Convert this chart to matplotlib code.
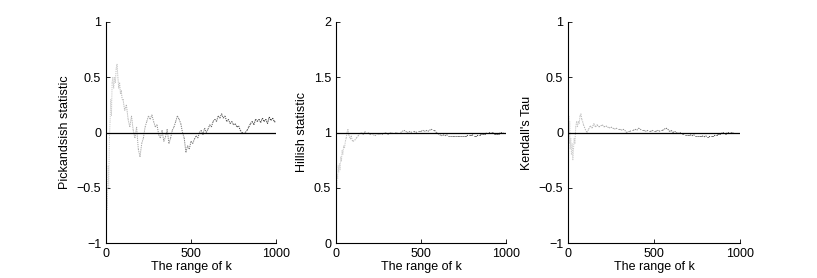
import numpy as np
import matplotlib
matplotlib.use('Agg')
import matplotlib.pyplot as plt
from matplotlib.collections import LineCollection

plt.rcParams['font.family'] = ['Liberation Sans', 'DejaVu Sans']
plt.rcParams['font.size'] = 8.5

# sample positions of k
k_vals = [1, 3, 5, 8, 10, 13, 16, 20, 24, 28, 32, 36, 40, 45, 50, 55, 60, 65, 70, 75,
          80, 85, 90, 95, 100] + list(range(110, 1001, 10))

pickands = [-0.95, -0.8, -0.5, -0.7, -0.45, -0.3, -0.5, -0.05, 0.1, 0.3, 0.15, 0.45, 0.5,
            0.4, 0.5, 0.45, 0.58, 0.62, 0.5, 0.4, 0.45, 0.35, 0.38, 0.3, 0.3,
            0.2, 0.25, 0.12, 0.05, 0.15, 0.02, -0.05, 0.05, -0.15, -0.22,
            -0.1, -0.05, 0.05, 0.1, 0.15, 0.12, 0.16, 0.1, 0.05, 0.07,
            -0.02, -0.05, 0.02, -0.08, -0.04, 0.03, -0.1, -0.05, 0.02, 0.05,
            0.1, 0.15, 0.12, 0.08, 0.0, -0.05, -0.18, -0.12, -0.15, -0.08,
            -0.1, -0.06, -0.03, -0.05, 0.0, 0.02, -0.02, 0.04, 0.0, 0.03,
            0.07, 0.05, 0.1, 0.12, 0.1, 0.15, 0.13, 0.17, 0.13, 0.15,
            0.1, 0.12, 0.08, 0.1, 0.07, 0.08, 0.05, 0.06, 0.02, 0.0,
            -0.01, 0.0, 0.02, 0.05, 0.08, 0.1, 0.07, 0.12, 0.1, 0.12,
            0.09, 0.13, 0.1, 0.12, 0.08, 0.14, 0.11, 0.13, 0.1, 0.09]

hillish = [0.45, 0.55, 0.5, 0.62, 0.58, 0.7, 0.64, 0.72, 0.66, 0.78, 0.74, 0.84, 0.8,
           0.88, 0.86, 0.92, 0.95, 1.0, 1.03, 0.98, 0.96, 0.94, 0.97, 0.93, 0.92,
           0.93, 0.95, 0.97, 0.99, 1.0, 0.98, 1.01, 0.99, 1.0, 0.98,
           0.99, 0.98, 0.97, 0.99, 0.98, 0.99, 0.98, 0.99, 1.0, 0.99,
           0.99, 1.0, 0.99, 1.0, 1.0, 0.99, 1.0, 1.0, 1.01, 1.02,
           1.01, 1.0, 1.01, 1.0, 1.01, 1.01, 1.0, 1.01, 1.01, 1.01,
           1.02, 1.01, 1.02, 1.01, 1.02, 1.03, 1.02, 1.02, 1.0, 0.99,
           0.98, 0.97, 0.98, 0.97, 0.98, 0.97, 0.97, 0.97, 0.97, 0.97,
           0.97, 0.97, 0.97, 0.97, 0.97, 0.97, 0.97, 0.98, 0.98, 0.98,
           0.97, 0.97, 0.97, 0.98, 0.98, 0.99, 0.99, 0.99, 1.0, 1.0,
           0.99, 1.0, 0.99, 0.99, 0.99, 0.99, 1.0, 0.99, 1.0, 1.0]

kendall = [1.0, -0.33, 0.15, -0.1, 0.1, -0.15, -0.05, -0.2, -0.1, -0.25, -0.15, -0.05, -0.1,
           0.05, 0.1, 0.05, 0.1, 0.08, 0.15, 0.17, 0.12, 0.1, 0.07, 0.05, 0.03,
           0.0, 0.03, 0.06, 0.04, 0.08, 0.05, 0.07, 0.05, 0.06, 0.07,
           0.05, 0.06, 0.05, 0.04, 0.05, 0.04, 0.03, 0.04, 0.03, 0.03,
           0.02, 0.03, 0.02, 0.0, 0.01, 0.01, 0.02, 0.02, 0.03, 0.02,
           0.04, 0.03, 0.02, 0.02, 0.01, 0.02, 0.01, 0.01, 0.02, 0.01,
           0.01, 0.02, 0.01, 0.02, 0.02, 0.03, 0.04, 0.03, 0.01, 0.02,
           0.0, 0.01, 0.0, -0.01, 0.0, -0.01, -0.01, -0.02, -0.02, -0.02,
           -0.02, -0.03, -0.02, -0.03, -0.03, -0.03, -0.03, -0.03, -0.04, -0.03,
           -0.04, -0.04, -0.03, -0.03, -0.03, -0.02, -0.02, -0.01, -0.01, 0.0,
           -0.01, -0.01, 0.0, -0.01, 0.0, -0.01, 0.0, 0.0, 0.0, 0.0]

panels = [
    ('Pickandsish statistic', pickands, 0.0, (-1, 1), [-1, -0.5, 0, 0.5, 1], ['\u22121', '\u22120.5', '0', '0.5', '1']),
    ('Hillish statistic', hillish, 1.0, (0, 2), [0, 0.5, 1, 1.5, 2], ['0', '0.5', '1', '1.5', '2']),
    ("Kendall's Tau", kendall, 0.0, (-1, 1), [-1, -0.5, 0, 0.5, 1], ['\u22121', '\u22120.5', '0', '0.5', '1']),
]

fig = plt.figure(figsize=(8.17, 2.78), dpi=100)
lefts = [106 / 817, 336 / 817, 568 / 817]
widths = [170 / 817, 170 / 817, 172 / 817]

for left, width, (ylab, vals, ref, ylim, yticks, yticklabels) in zip(lefts, widths, panels):
    ax = fig.add_axes([left, 35 / 278, width, 221 / 278])
    pts = np.column_stack([k_vals, vals])
    segs = np.stack([pts[:-1], pts[1:]], axis=1)
    # light grey at the start, darker as k grows
    shade = np.linspace(0.85, 0.12, len(segs))
    cols = [(s, s, s) for s in shade]
    lc = LineCollection(segs, colors=cols, linewidths=0.7, linestyles=[(0, (1.2, 1.0))])
    ax.add_collection(lc)
    ax.plot([0, 1000], [ref, ref], color='black', lw=0.9)
    ax.set_xlim(0, 1000)
    ax.set_ylim(*ylim)
    ax.set_xticks([0, 500, 1000])
    ax.set_yticks(yticks)
    ax.set_yticklabels(yticklabels)
    ax.tick_params(direction='in', length=3, width=0.6, labelsize=9)
    for side in ['top', 'right']:
        ax.spines[side].set_visible(False)
    for side in ['left', 'bottom']:
        ax.spines[side].set_linewidth(0.8)
    ax.set_xlabel('The range of k', labelpad=1, fontsize=9)
    ax.set_ylabel(ylab, labelpad=4, fontsize=9)

fig.savefig('out.png', dpi=100)
